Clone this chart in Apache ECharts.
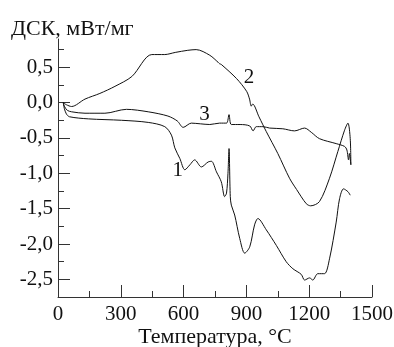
<!DOCTYPE html>
<html>
<head>
<meta charset="utf-8">
<script src="https://cdn.jsdelivr.net/npm/echarts@6/dist/echarts.min.js"></script>
<style>
  html, body { margin: 0; padding: 0; background: #fff; }
  #chart { width: 394px; height: 347px; }
</style>
</head>
<body>
<div id="chart"></div>
<script>
// curve 1 (lowest)
const t1 = [25, 30, 40, 55, 145, 304, 431, 510, 542, 558, 582, 606, 630, 653, 685, 717, 733, 757, 780, 796, 805, 812, 817, 823, 828, 844, 868, 892, 916, 939, 955, 995, 1043, 1090, 1122, 1162, 1178, 1202, 1217, 1241, 1273, 1297, 1329, 1345, 1364, 1385, 1396];
const v1 = [0, -0.08, -0.16, -0.20, -0.23, -0.25, -0.28, -0.34, -0.46, -0.64, -0.79, -0.95, -0.88, -0.81, -0.91, -0.84, -0.83, -0.98, -1.12, -1.33, -1.28, -1.0, -0.65, -1.33, -1.45, -1.59, -1.92, -2.13, -2.04, -1.73, -1.64, -1.80, -2.02, -2.25, -2.35, -2.43, -2.51, -2.48, -2.51, -2.42, -2.42, -2.21, -1.69, -1.36, -1.22, -1.26, -1.31];

// curve 2 (top)
const t2 = [25, 40, 65, 129, 200, 272, 353, 448, 510, 560, 620, 660, 725, 765, 772, 780, 853, 901, 915, 923, 930, 960, 995, 1050, 1106, 1140, 1186, 1207, 1249, 1297, 1337, 1369, 1385, 1396, 1399];
const v2 = [0, -0.03, -0.055, 0.05, 0.13, 0.23, 0.37, 0.68, 0.68, 0.71, 0.74, 0.75, 0.67, 0.57, 0.55, 0.54, 0.34, 0.16, 0.05, -0.05, -0.02, -0.2, -0.41, -0.72, -1.07, -1.23, -1.43, -1.46, -1.40, -1.07, -0.69, -0.39, -0.29, -0.51, -0.88];

// curve 3 (middle)
const t3 = [25, 32, 45, 65, 129, 224, 327, 431, 525, 570, 598, 637, 680, 725, 772, 805, 817, 828, 870, 916, 932, 947, 979, 1011, 1074, 1130, 1178, 1210, 1249, 1329, 1369, 1380, 1388, 1392, 1399];
const v3 = [0, -0.06, -0.11, -0.13, -0.15, -0.15, -0.095, -0.13, -0.19, -0.26, -0.35, -0.29, -0.30, -0.31, -0.29, -0.29, -0.17, -0.31, -0.31, -0.33, -0.40, -0.34, -0.34, -0.36, -0.37, -0.40, -0.36, -0.42, -0.51, -0.58, -0.62, -0.67, -0.81, -0.72, -0.88];

const yMajor = [-2.5, -2.0, -1.5, -1.0, -0.5, 0.0, 0.5];
const yMinor = [-2.75, -2.25, -1.75, -1.25, -0.75, -0.25, 0.25, 0.75];

// curve number labels [T, value, text]
const curveLabels = [[572, -0.96, '1'], [912, 0.36, '2'], [700, -0.166, '3']];

const font = 'Liberation Serif';
const ink = '#111';
const axisInk = '#333';

const pairs = (t, v) => t.map((x, i) => [x, v[i]]);

const chart = echarts.init(document.getElementById('chart'), null, { renderer: 'canvas' });

const lineSeries = (data, idx) => ({
  type: 'line',
  data,
  symbol: 'none',
  smooth: 0.3,
  lineStyle: { color: ink, width: 1 },
  animation: false,
  markPoint: {
    symbol: 'circle',
    symbolSize: 0,
    silent: true,
    label: {
      show: true,
      position: 'inside',
      color: ink,
      fontFamily: font,
      fontSize: 21,
      formatter: curveLabels[idx][2]
    },
    data: [{ coord: [curveLabels[idx][0], curveLabels[idx][1]] }]
  }
});

const option = {
  backgroundColor: '#fff',
  animation: false,
  title: {
    text: 'ДСК, мВт/мг',
    left: 11,
    top: 18,
    padding: 0,
    textStyle: { color: ink, fontFamily: font, fontSize: 22, fontWeight: 'normal' }
  },
  grid: { left: 58, right: 22, top: 39, bottom: 50, outerBoundsMode: 'none', containLabel: false },
  xAxis: {
    type: 'value',
    min: 0,
    max: 1500,
    interval: 300,
    name: 'Температура, °С',
    nameLocation: 'middle',
    nameGap: 29,
    nameMoveOverlap: false,
    nameTextStyle: { color: ink, fontFamily: font, fontSize: 22 },
    axisLine: { onZero: false, lineStyle: { color: axisInk, width: 1 } },
    axisTick: { inside: true, length: 12, lineStyle: { color: axisInk } },
    minorTick: { show: true, splitNumber: 2, length: 6, lineStyle: { color: axisInk } },
    axisLabel: { color: ink, fontFamily: font, fontSize: 21, margin: 7, formatter: (v) => String(v) },
    splitLine: { show: false }
  },
  yAxis: [
    {
      type: 'value',
      min: -2.75,
      max: 0.9,
      axisLine: { show: true, onZero: false, lineStyle: { color: axisInk, width: 1 } },
      axisTick: { show: true, inside: true, length: 12, customValues: yMajor, lineStyle: { color: axisInk } },
      axisLabel: {
        color: ink,
        fontFamily: font,
        fontSize: 21,
        margin: 5,
        padding: [4, 0, 0, 0],
        customValues: yMajor,
        formatter: (v) => v.toFixed(1).replace('.', ',')
      },
      splitLine: { show: false }
    },
    {
      type: 'value',
      min: -2.75,
      max: 0.9,
      position: 'left',
      axisLine: { show: false, onZero: false },
      axisTick: { show: true, inside: true, length: 6, customValues: yMinor, lineStyle: { color: axisInk } },
      axisLabel: { show: false },
      splitLine: { show: false }
    }
  ],
  series: [
    lineSeries(pairs(t1, v1), 0),
    lineSeries(pairs(t2, v2), 1),
    lineSeries(pairs(t3, v3), 2)
  ]
};

chart.setOption(option);
</script>
</body>
</html>
